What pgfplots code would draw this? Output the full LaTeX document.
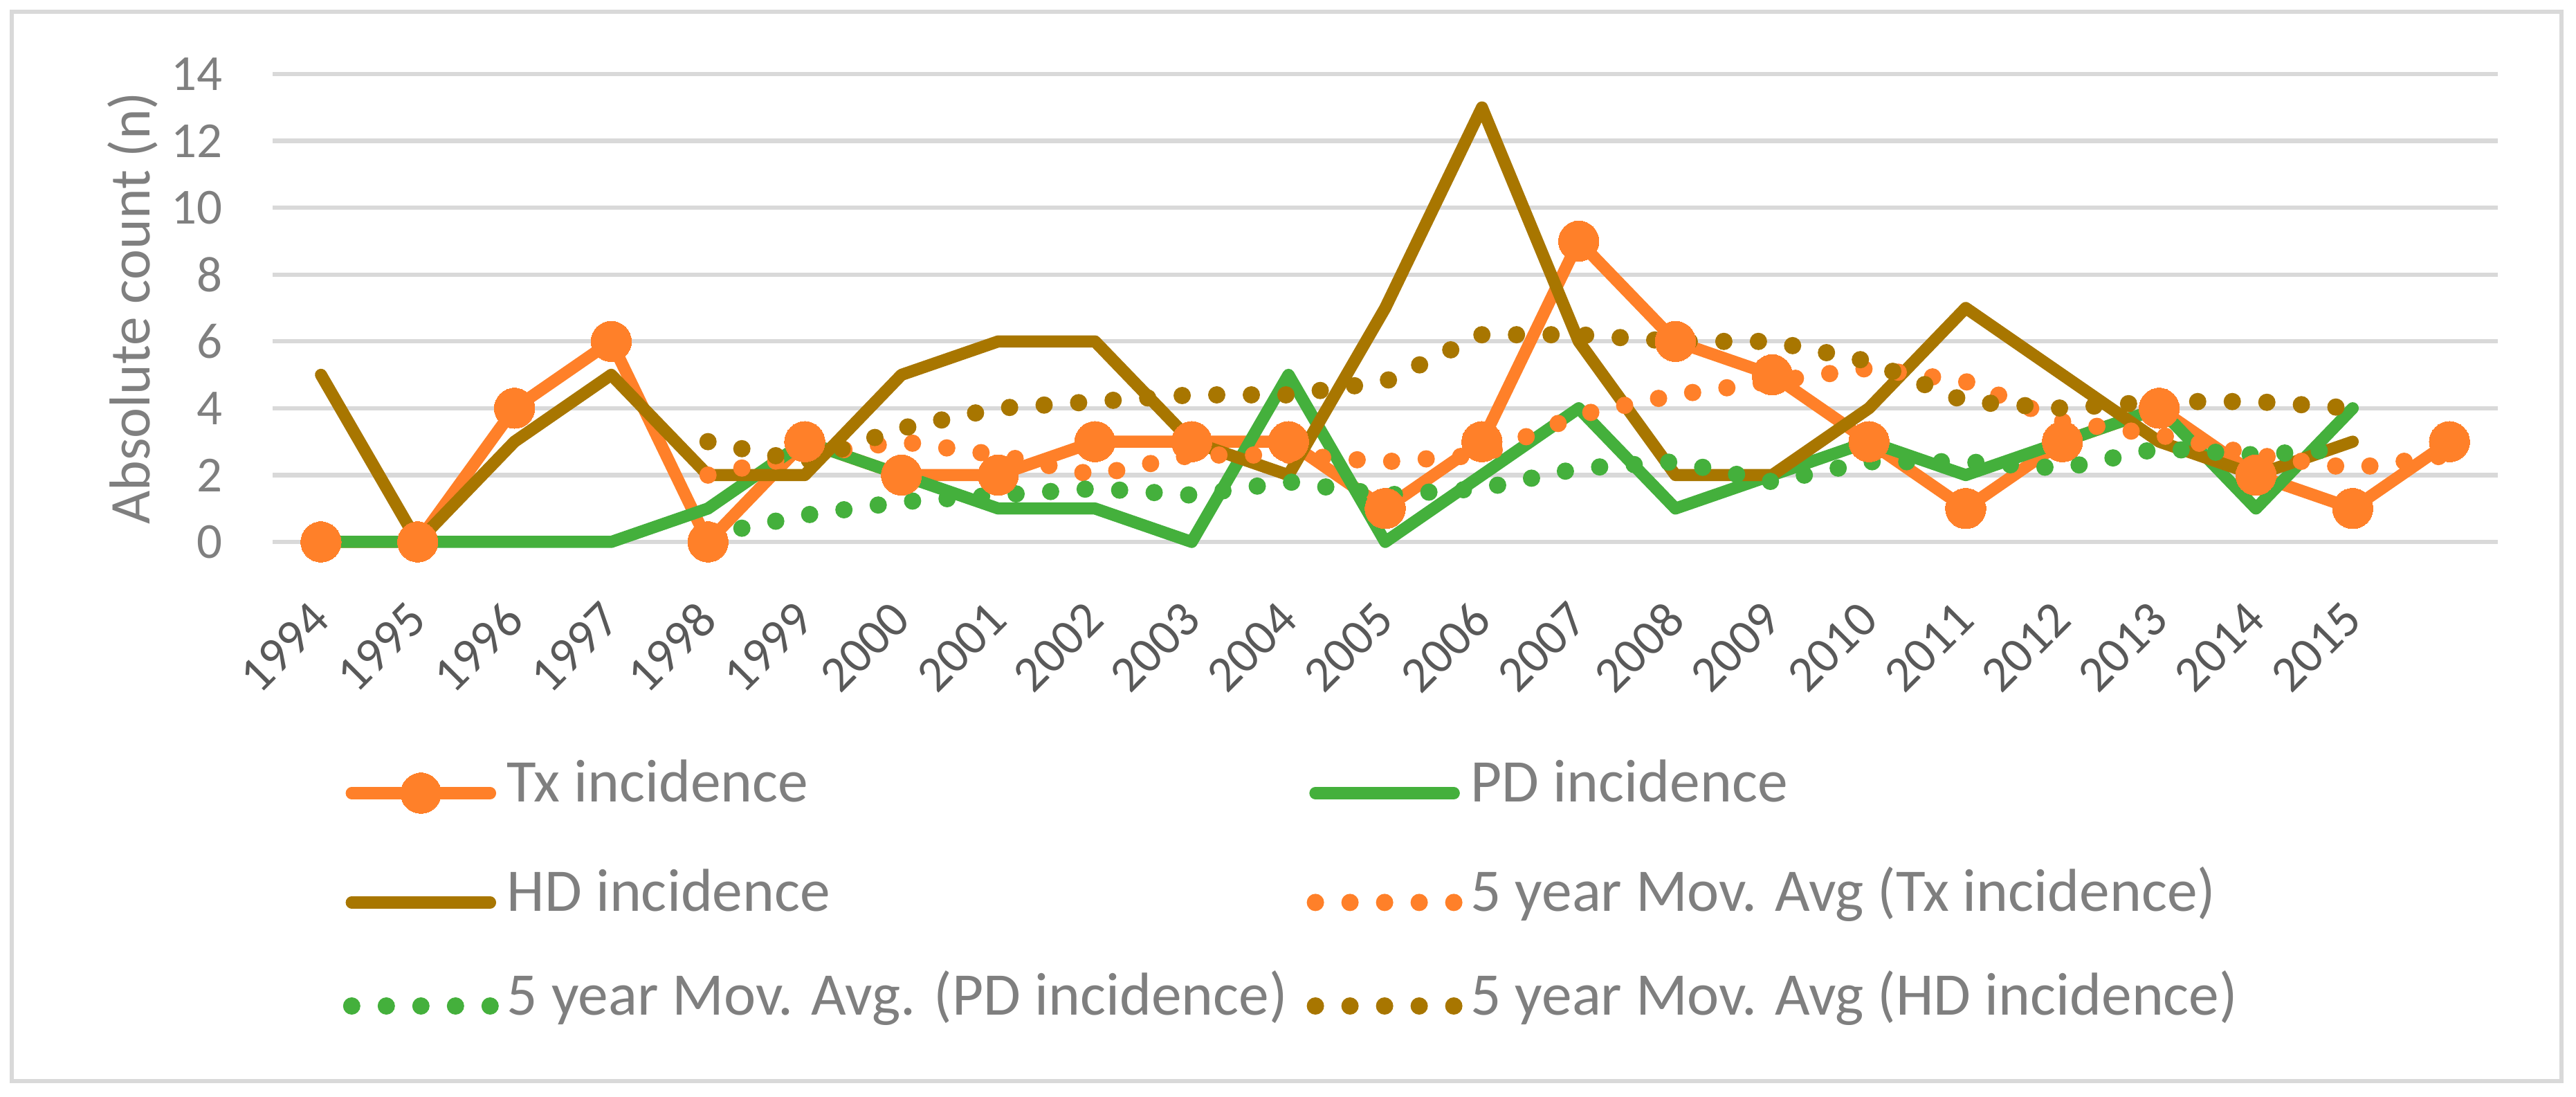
\documentclass[border=0pt]{standalone}
\usepackage{fontspec}
\setmainfont{Carlito}
\usepackage{pgfplots}
\pgfplotsset{compat=1.18}
\definecolor{txc}{HTML}{FF8029}
\definecolor{pdc}{HTML}{44B03C}
\definecolor{hdc}{HTML}{A87600}
\definecolor{gridc}{HTML}{D9D9D9}
\definecolor{labc}{HTML}{7F7F7F}
\definecolor{xlabc}{HTML}{595959}
\begin{document}
\begin{tikzpicture}
\path[use as bounding box] (0,0) rectangle (893.52pt,380.16pt);
\draw[gridc, line width=1.4pt] (4.08pt,5.28pt) rectangle (888.48pt,376.08pt);
\begin{axis}[
  at={(94.56pt,192.24pt)}, anchor=south west,
  scale only axis, width=771.84pt, height=162.24pt,
  xmin=-0.5, xmax=22.5, ymin=0, ymax=14,
  clip=false,
  axis line style={draw=none}, major tick length=0pt,
  ytick={0,2,...,14},
  xtick={0,...,21},
  xticklabels={1994,1995,1996,1997,1998,1999,2000,2001,2002,2003,2004,2005,2006,2007,2008,2009,2010,2011,2012,2013,2014,2015},
  /pgf/number format/assume math mode=true,
  ticklabel style={font=\fontsize{17.5}{21}\selectfont},
  yticklabel style={text=labc, anchor=east, inner sep=0pt},
  xticklabel style={text=xlabc, rotate=45, anchor=east, inner sep=0pt},
  xticklabel shift=23.8pt,
  yticklabel shift=17.3pt,
  ymajorgrids, grid style={gridc, line width=1.5pt},
  ylabel={Absolute count (n)},
  ylabel style={at={(axis description cs:-0.05535,0.5)}, anchor=base, font=\fontsize{20}{24}\selectfont, text=labc},
  legend columns=2,
  legend cell align=left,
  legend image code/.code={\draw[mark repeat=2, mark phase=2, #1] plot coordinates {(0pt,0pt) (24pt,0pt) (48pt,0pt)};},
  legend style={at={(0.0314,-0.4926)}, anchor=north west, draw=none, fill=none, inner sep=0pt,
    row sep=25.9pt,
    nodes={inner sep=0pt, text height=0.8em, text depth=0.2em, font=\fontsize{21}{25}\selectfont, text=labc},
    /tikz/every odd column/.append style={column sep=2.9pt},
    /tikz/every even column/.append style={column sep=6.7pt}},
  solidline/.style={line width=4.2pt, line join=round, line cap=round, mark=none},
  maline/.style={line width=6pt, dash pattern=on 0pt off 12pt, line cap=round, line join=round, mark=none},
]
% Tx incidence
\addplot[solidline, txc, mark=*, mark size=7pt, mark options={solid, fill=txc, draw=txc, line width=0pt}] coordinates {
(0,0)(1,0)(2,4)(3,6)(4,0)(5,3)(6,2)(7,2)(8,3)(9,3)(10,3)(11,1)(12,3)(13,9)(14,6)(15,5)(16,3)(17,1)(18,3)(19,4)(20,2)(21,1)(22,3)};
\addlegendentry{Tx incidence}
% PD incidence
\addplot[solidline, pdc] coordinates {
(0,0)(1,0)(2,0)(3,0)(4,1)(5,3)(6,2)(7,1)(8,1)(9,0)(10,5)(11,0)(12,2)(13,4)(14,1)(15,2)(16,3)(17,2)(18,3)(19,4)(20,1)(21,4)};
\addlegendentry{PD incidence}
% HD incidence
\addplot[solidline, hdc] coordinates {
(0,5)(1,0)(2,3)(3,5)(4,2)(5,2)(6,5)(7,6)(8,6)(9,3)(10,2)(11,7)(12,13)(13,6)(14,2)(15,2)(16,4)(17,7)(18,5)(19,3)(20,2)(21,3)};
\addlegendentry{HD incidence}
% 5 year moving averages
\addplot[maline, txc] coordinates {
(4,2.0)(5,2.6)(6,3.0)(7,2.6)(8,2.0)(9,2.6)(10,2.6)(11,2.4)(12,2.6)(13,3.8)(14,4.4)(15,4.8)(16,5.2)(17,4.8)(18,3.6)(19,3.2)(20,2.6)(21,2.2)(22,2.6)};
\addlegendentry{5 year Mov. Avg (Tx incidence)}
\addplot[maline, pdc] coordinates {
(4,0.2)(5,0.8)(6,1.2)(7,1.4)(8,1.6)(9,1.4)(10,1.8)(11,1.4)(12,1.6)(13,2.2)(14,2.4)(15,1.8)(16,2.4)(17,2.4)(18,2.2)(19,2.8)(20,2.6)(21,2.8)};
\addlegendentry{5 year Mov. Avg. (PD incidence)}
\addplot[maline, hdc] coordinates {
(4,3.0)(5,2.4)(6,3.4)(7,4.0)(8,4.2)(9,4.4)(10,4.4)(11,4.8)(12,6.2)(13,6.2)(14,6.0)(15,6.0)(16,5.4)(17,4.2)(18,4.0)(19,4.2)(20,4.2)(21,4.0)};
\addlegendentry{5 year Mov. Avg (HD incidence)}
\end{axis}
\end{tikzpicture}
\end{document}
